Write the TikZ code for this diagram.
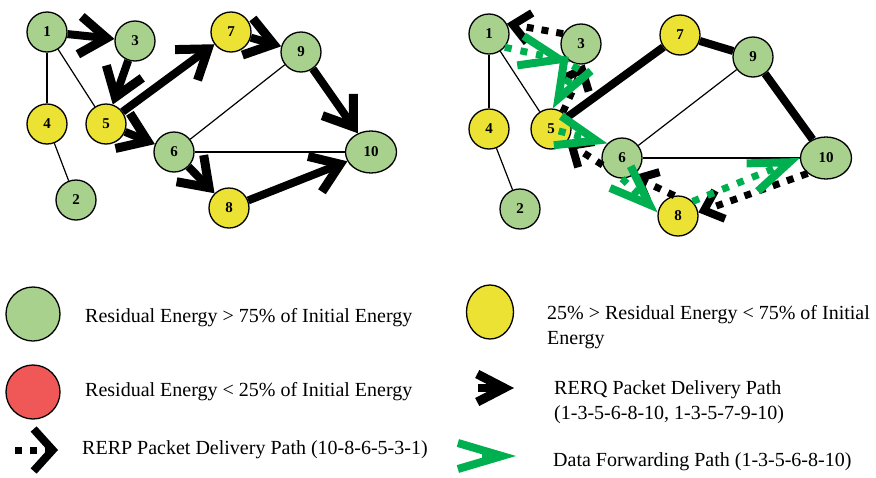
\documentclass[tikz,border=0pt]{standalone}
\usepackage{fontspec}
\setmainfont{Liberation Serif}
\usetikzlibrary{arrows.meta, shapes.geometric}
\definecolor{highE}{RGB}{169, 209, 142}
\definecolor{midE}{RGB}{235, 226, 52}
\definecolor{lowE}{RGB}{240, 88, 88}
\definecolor{fwd}{RGB}{0, 176, 80}

\begin{document}
\begin{tikzpicture}[x=1pt, y=-1pt,
    nd/.style={circle, draw=black, line width=1.3pt, minimum size=40pt, inner sep=0pt,
      font=\bfseries\fontsize{15}{15}\selectfont},
    hi/.style={nd, fill=highE},
    mid/.style={nd, fill=midE},
    wide/.style={ellipse, minimum width=51pt, minimum height=42pt},
    link/.style={line width=1.2pt},
    rerq/.style={line width=8pt, -{Straight Barb[length=27pt, width=38pt, line width=9pt]}},
    rerqline/.style={line width=8pt},
    rerp/.style={line width=7pt, dash pattern=on 7pt off 8pt, -{Straight Barb[length=17pt, width=30pt, line width=8pt]}},
    dataf/.style={fwd, line width=7pt, dash pattern=on 7pt off 9pt, -{Straight Barb[length=40pt, width=30pt, line width=8pt]}},
    txt/.style={anchor=west, inner sep=0pt, align=left, font=\fontsize{20}{25}\selectfont}]
\useasboundingbox (0,0) rectangle (876,477);

% left network: RERQ flooding
\node[hi] (l1) at (47,32) {1};
\node[hi] (l3) at (135,41) {3};
\node[mid] (l7) at (231,32) {7};
\node[hi] (l9) at (301,52) {9};
\node[mid] (l4) at (47,124) {4};
\node[mid] (l5) at (106,124) {5};
\node[hi] (l6) at (174,152) {6};
\node[hi, wide] (l10) at (371,152) {10};
\node[hi] (l2) at (76,200) {2};
\node[mid] (l8) at (229,208) {8};

\foreach \a/\b in {1/4, 1/5, 4/2, 6/9, 6/10}
  \draw[link] (l\a) -- (l\b);
\foreach \a/\b in {1/3, 3/5, 5/7, 7/9, 9/10, 5/6, 6/8, 8/10}
  \draw[rerq] (l\a) -- (l\b);

% right network: reply and data
\node[hi] (r1) at (489,34) {1};
\node[hi] (r3) at (581,44) {3};
\node[mid] (r7) at (680,35) {7};
\node[hi] (r9) at (753,57) {9};
\node[mid] (r4) at (489,129) {4};
\node[mid] (r5) at (551,129) {5};
\node[hi] (r6) at (622,158) {6};
\node[hi, wide] (r10) at (826,158) {10};
\node[hi] (r2) at (520,209) {2};
\node[mid] (r8) at (678,216) {8};

\foreach \a/\b in {1/4, 1/5, 4/2, 6/9, 6/10}
  \draw[link] (r\a) -- (r\b);
\foreach \a/\b in {5/7, 7/9, 9/10}
  \draw[rerqline] (r\a) -- (r\b);

% RERP back to the source
\draw[rerp] (r10.220) -- (r8.10);
\draw[rerp] (r8.100) -- (r6.-60);
\draw[rerp] (r6.200) -- (r5.-40);
\draw[rerp] (r5.55) -- (r3.-80);
\draw[rerp] (r3.150) -- (r1.30);

% data forwarding
\draw[dataf] (r1.-40) -- (r3.240);
\draw[dataf] (r3.-100) -- (r5.85);
\draw[dataf, shorten <=8pt] (r5.center) -- (r6.135);
\draw[dataf] (r6.-90) -- (r8.170);
\draw[dataf] (r8.45) -- (r10.180);

% legend
\node[hi, minimum size=54pt] (keyHigh) at (33,314) {};
\node[nd, fill=lowE, minimum size=54pt] (keyLow) at (33,392) {};
\node[mid, ellipse, minimum width=47pt, minimum height=54pt] (keyMid) at (490,312) {};

\coordinate (rp0) at (15,450);
\coordinate (rp1) at (58,450);
\draw[rerp, -{Straight Barb[length=19pt, width=42pt, line width=8pt]}] (rp0) -- (rp1);
\coordinate (rq0) at (478,388);
\coordinate (rq1) at (514,388);
\draw[rerq, -{Straight Barb[length=27pt, width=28pt, line width=9pt]}] (rq0) -- (rq1);
\coordinate (fw0) at (464,456);
\coordinate (fw1) at (516,456);
\draw[dataf, dash pattern=on 0pt off 18pt on 10pt off 40pt, -{Straight Barb[length=44pt, width=26pt, line width=8pt]}] (fw0) -- (fw1);

\node[txt] (keyHighTxt) at (85,318) {Residual Energy > 75\% of Initial Energy};
\node[txt] (keyLowTxt) at (85,392) {Residual Energy < 25\% of Initial Energy};
\node[txt] (keyRerpTxt) at (82,450) {RERP Packet Delivery Path (10-8-6-5-3-1)};
\node[txt] (keyMidTxt) at (547,327) {25\% > Residual Energy < 75\% of Initial\\Energy};
\node[txt] (keyRerqTxt) at (554,402) {RERQ Packet Delivery Path\\(1-3-5-6-8-10, 1-3-5-7-9-10)};
\node[txt] (keyFwdTxt) at (553,462) {Data Forwarding Path (1-3-5-6-8-10)};
\end{tikzpicture}
\end{document}
